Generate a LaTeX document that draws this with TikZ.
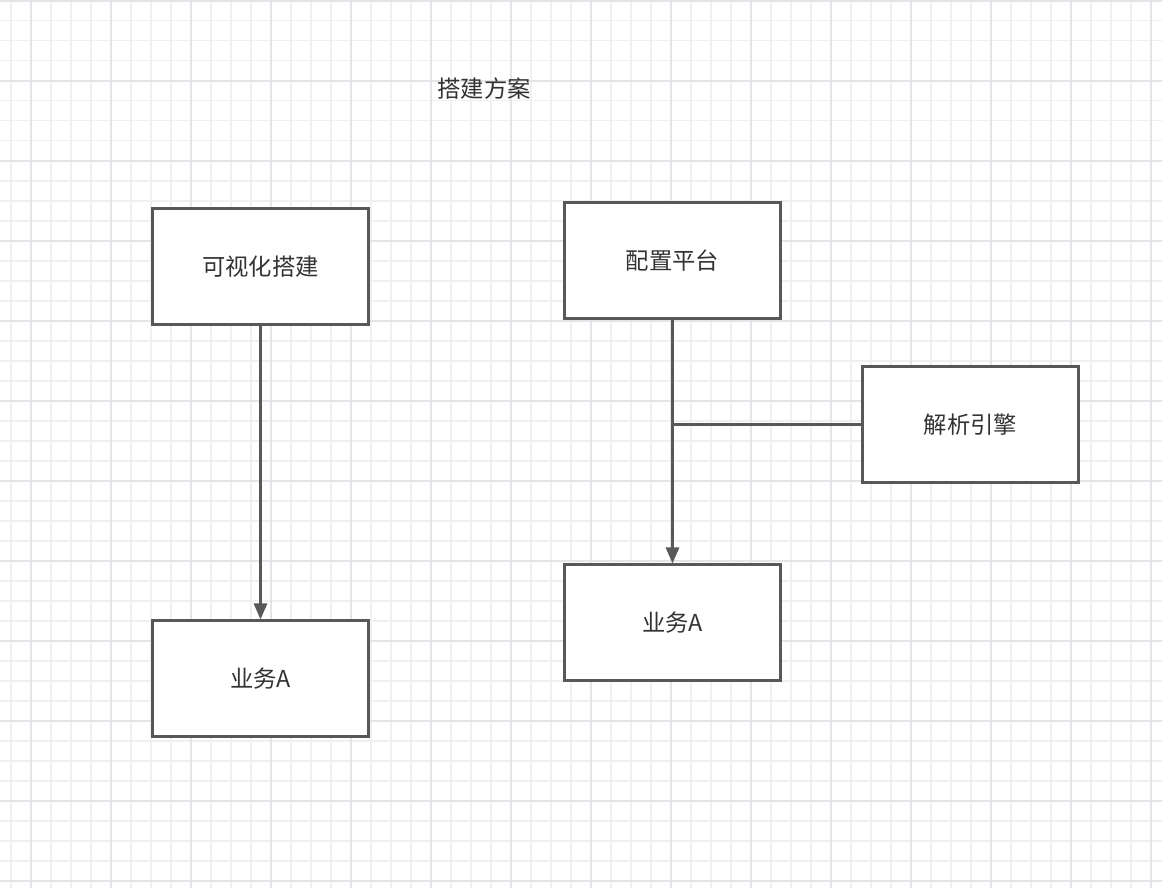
\documentclass[tikz,border=0pt]{standalone}
\usepackage{fontspec}
\setmainfont{Noto Sans CJK SC}
\usetikzlibrary{arrows.meta}
\definecolor{gridminor}{RGB}{240,240,243}
\definecolor{gridmajor}{RGB}{229,229,233}
\definecolor{edgegray}{RGB}{88,88,88}
\begin{document}
\begin{tikzpicture}[
	x=0.75pt, y=-0.75pt,
	box/.style={draw=edgegray, line width=1.7pt, fill=white, minimum width=162pt, minimum height=87pt, inner sep=0pt, font=\fontsize{17.5}{20}\selectfont, text=black!80},
	link/.style={draw=edgegray, line width=1.6pt},
	arrow/.style={link, -{Triangle[length=12pt, width=10pt]}}
	]
	% background grid
	\fill[white] (0,0) rectangle (1162,888);
	\useasboundingbox (0,0) rectangle (1162,888);
	\foreach \x in {0,...,57}
		\draw[gridminor, line width=1.2pt] (10.7+20*\x,0) -- (10.7+20*\x,888);
	\foreach \y in {0,...,44}
		\draw[gridminor, line width=1.2pt] (0,0.7+20*\y) -- (1162,0.7+20*\y);
	\foreach \x in {0,...,14}
		\draw[gridmajor, line width=1.5pt] (30.7+80*\x,0) -- (30.7+80*\x,888);
	\foreach \y in {0,...,11}
		\draw[gridmajor, line width=1.5pt] (0,0.7+80*\y) -- (1162,0.7+80*\y);

	\node[font=\fontsize{17.5}{20}\selectfont, text=black!80] (title) at (484,89) {搭建方案};

	\node[box] (visual) at (260.5,266.5) {可视化搭建};
	\node[box] (bizleft) at (260.5,678.5) {业务A};
	\node[box] (config) at (672.5,260.5) {配置平台};
	\node[box] (parser) at (970.5,424.5) {解析引擎};
	\node[box] (bizright) at (672.5,622.5) {业务A};

	\draw[arrow] (visual) -- (bizleft);
	\draw[arrow] (config) -- (bizright);
	\coordinate (join) at (config.south |- parser.west);
	\draw[link] (parser.west) -- (join);
\end{tikzpicture}
\end{document}
